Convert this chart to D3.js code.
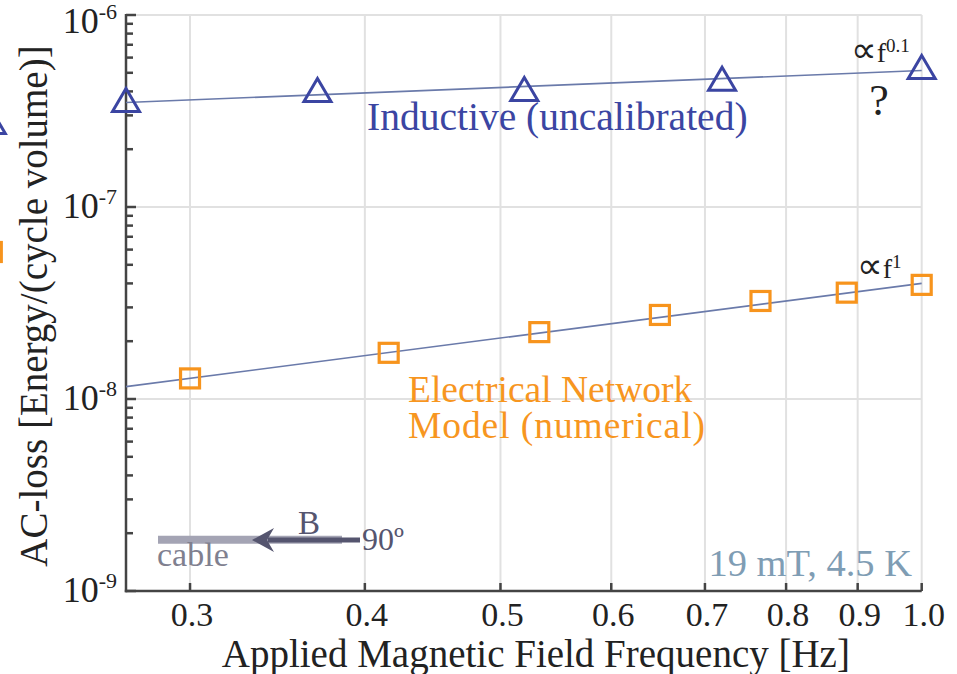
<!DOCTYPE html>
<html><head><meta charset="utf-8">
<script src="https://cdn.jsdelivr.net/npm/d3@7"></script>
<style>html,body{margin:0;padding:0;background:#fff;}svg{display:block;font-family:"Liberation Serif",serif;}</style>
</head><body>
<script>
// ---- data ----
const inductiveF = [0.27, 0.370, 0.520, 0.720, 1.0];
const inductiveV = [3.61e-7, 4.07e-7, 4.12e-7, 4.66e-7, 5.36e-7];
const networkF = [0.300, 0.416, 0.533, 0.650, 0.767, 0.884, 1.0];
const networkV = [1.28e-8, 1.74e-8, 2.23e-8, 2.74e-8, 3.24e-8, 3.58e-8, 3.93e-8];
const inductiveFitF = [0.27, 1.0];
const inductiveFitV = [3.50e-7, 5.14e-7];
const networkFitF = [0.27, 1.0];
const networkFitV = [1.16e-8, 4.00e-8];
const offMarkerF = [0.2165];
const offTriV = [2.77e-7];
const offSqV = [5.83e-8];
const xTicks = [0.3, 0.4, 0.5, 0.6, 0.7, 0.8, 0.9, 1.0];
const xTickLabels = ["0.3", "0.4", "0.5", "0.6", "0.7", "0.8", "0.9", "1.0"];
const yTicks = [1e-9, 1e-8, 1e-7, 1e-6];
const yTickExp = ["-9", "-8", "-7", "-6"];

const W = 957, H = 674;
const blue = "#3b45a2", orange = "#f7941d", fitCol = "#6a7aaa";
const svg = d3.select("body").append("svg").attr("width", W).attr("height", H);

const x = d3.scaleLog().domain([0.27, 1.0]).range([126, 921.7]);
const y = d3.scaleLog().domain([1e-9, 1e-6]).range([591, 15]);
const [x0, x1] = x.range(), [y0, y1] = y.range();

// grid
const grid = svg.append("g").attr("stroke", "#e1e1e1").attr("stroke-width", 2);
grid.selectAll("line.v").data(xTicks).join("line").attr("class","v")
  .attr("x1", d => x(d)).attr("x2", d => x(d)).attr("y1", y1).attr("y2", y0);
grid.selectAll("line.h").data(yTicks).join("line").attr("class","h")
  .attr("x1", x0).attr("x2", x1).attr("y1", d => y(d)).attr("y2", d => y(d));

// minor y ticks
const minor = [];
yTicks.slice(0, 3).forEach(t => { for (let k = 2; k <= 9; k++) minor.push(t * k); });
const axG = svg.append("g").attr("stroke", "#444").attr("stroke-width", 2.5);
axG.selectAll("line.mn").data(minor).join("line")
  .attr("x1", x0).attr("x2", x0 + 7).attr("y1", d => y(d)).attr("y2", d => y(d));
axG.selectAll("line.mj").data(yTicks).join("line")
  .attr("x1", x0).attr("x2", x0 + 10).attr("y1", d => y(d)).attr("y2", d => y(d));
axG.selectAll("line.xt").data(xTicks).join("line")
  .attr("x1", d => x(d)).attr("x2", d => x(d)).attr("y1", y0).attr("y2", y0 - 8);
axG.append("line").attr("x1", x0).attr("x2", x0).attr("y1", y1 - 1).attr("y2", y0 + 1.2);
axG.append("line").attr("x1", x0 - 1.2).attr("x2", x1).attr("y1", y0).attr("y2", y0);

// tick labels
svg.append("g").attr("fill", "#222").attr("font-size", 34).attr("text-anchor", "middle")
  .selectAll("text").data(xTicks).join("text")
  .attr("x", d => x(d) + 2).attr("y", 626).text((d, i) => xTickLabels[i]);
const yl = svg.append("g").attr("fill", "#222").attr("text-anchor", "end")
  .selectAll("text").data(yTicks).join("text")
  .attr("x", 117).attr("y", d => Math.max(y(d) + 11, 33)).attr("font-size", 36);
yl.append("tspan").text("10");
yl.append("tspan").attr("font-size", 22).attr("dy", -14).text((d, i) => yTickExp[i]);

// axis titles
svg.append("text").attr("x", (x0 + x1) / 2 + 12).attr("y", 667).attr("text-anchor", "middle")
  .attr("font-size", 39).attr("fill", "#222").text("Applied Magnetic Field Frequency [Hz]");
svg.append("text").attr("transform", "translate(47,306) rotate(-90)").attr("text-anchor", "middle")
  .attr("font-size", 39).attr("fill", "#222").text("AC-loss [Energy/(cycle volume)]");

// fit lines
const line = d3.line().x(d => x(d[0])).y(d => y(d[1]));
svg.append("path").datum(inductiveFitF.map((f, i) => [f, inductiveFitV[i]]))
  .attr("d", line).attr("fill", "none").attr("stroke", fitCol).attr("stroke-width", 1.6);
svg.append("path").datum(networkFitF.map((f, i) => [f, networkFitV[i]]))
  .attr("d", line).attr("fill", "none").attr("stroke", fitCol).attr("stroke-width", 1.6);

// markers
const tri = "M0,-11.5L13.5,11.5L-13.5,11.5Z";
const triData = inductiveF.map((f, i) => [f, inductiveV[i]]).concat(offMarkerF.map((f, i) => [f, offTriV[i]]));
svg.append("g").selectAll("path").data(triData).join("path")
  .attr("d", tri).attr("transform", d => `translate(${x(d[0])},${y(d[1])})`)
  .attr("fill", "none").attr("stroke", blue).attr("stroke-width", 3).attr("stroke-linejoin", "miter");
const sqData = networkF.map((f, i) => [f, networkV[i]]).concat(offMarkerF.map((f, i) => [f, offSqV[i]]));
svg.append("g").selectAll("rect").data(sqData).join("rect")
  .attr("x", d => x(d[0]) - 9.5).attr("y", d => y(d[1]) - 9.5).attr("width", 19).attr("height", 19)
  .attr("fill", "none").attr("stroke", orange).attr("stroke-width", 3.2);

// annotations
svg.append("text").attr("x", 367).attr("y", 130).attr("font-size", 39.5).attr("fill", blue)
  .text("Inductive (uncalibrated)");
svg.append("text").attr("x", 408).attr("y", 402).attr("font-size", 37.5).attr("fill", "#f7961f")
  .text("Electrical Network");
svg.append("text").attr("x", 408).attr("y", 438).attr("font-size", 37.5).attr("fill", "#f7961f")
  .attr("textLength", 297).attr("lengthAdjust", "spacing")
  .text("Model (numerical)");
const a1 = svg.append("text").attr("x", 851).attr("y", 62).attr("font-size", 28).attr("fill", "#222");
a1.append("tspan").attr("font-family", "DejaVu Sans").attr("font-size", 36).text("\u221D");
a1.append("tspan").text("f");
a1.append("tspan").attr("font-size", 19).attr("dy", -10).text("0.1");
svg.append("text").attr("x", 879).attr("y", 115).attr("font-size", 44).attr("fill", "#222")
  .attr("text-anchor", "middle").text("?");
const a2 = svg.append("text").attr("x", 857).attr("y", 278).attr("font-size", 28).attr("fill", "#222");
a2.append("tspan").attr("font-family", "DejaVu Sans").attr("font-size", 36).text("\u221D");
a2.append("tspan").text("f");
a2.append("tspan").attr("font-size", 19).attr("dy", -10).text("1");
svg.append("text").attr("x", 912).attr("y", 576).attr("text-anchor", "end").attr("font-size", 38.5)
  .attr("fill", "#7f9db4").text("19 mT, 4.5 K");

// cable diagram
svg.append("line").attr("x1", 158).attr("x2", 342).attr("y1", 539.7).attr("y2", 539.7)
  .attr("stroke", "#a4a4b4").attr("stroke-width", 8);
svg.append("line").attr("x1", 360).attr("x2", 268).attr("y1", 540).attr("y2", 540)
  .attr("stroke", "#55556f").attr("stroke-width", 5);
svg.append("path").attr("d", "M252,540L274,528L267,540L274,552Z").attr("fill", "#55556f");
svg.append("text").attr("x", 298).attr("y", 534).attr("font-size", 33).attr("fill", "#55556f").text("B");
svg.append("text").attr("x", 362).attr("y", 550).attr("font-size", 32).attr("fill", "#55556f").text("90\u00BA");
svg.append("text").attr("x", 157).attr("y", 566).attr("font-size", 34).attr("fill", "#80808f").text("cable");
</script>
</body></html>
